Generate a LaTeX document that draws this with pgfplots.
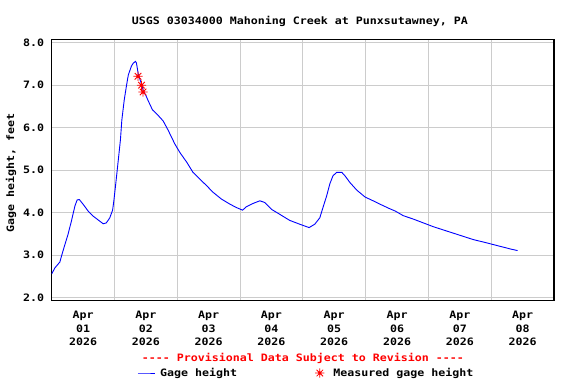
\documentclass[border=0pt]{standalone}
\usepackage{fontspec}
\newfontfamily\usgsfont{DejaVu Sans Mono}[FakeStretch=1.14]
\usepackage{pgfplots}
\pgfplotsset{compat=1.18}
\pgfdeclareplotmark{burst}{%
  \pgfpathmoveto{\pgfqpoint{-\pgfplotmarksize}{0pt}}%
  \pgfpathlineto{\pgfqpoint{\pgfplotmarksize}{0pt}}%
  \pgfpathmoveto{\pgfqpoint{0pt}{-\pgfplotmarksize}}%
  \pgfpathlineto{\pgfqpoint{0pt}{\pgfplotmarksize}}%
  \pgfpathmoveto{\pgfqpoint{-.707\pgfplotmarksize}{-.707\pgfplotmarksize}}%
  \pgfpathlineto{\pgfqpoint{.707\pgfplotmarksize}{.707\pgfplotmarksize}}%
  \pgfpathmoveto{\pgfqpoint{-.707\pgfplotmarksize}{.707\pgfplotmarksize}}%
  \pgfpathlineto{\pgfqpoint{.707\pgfplotmarksize}{-.707\pgfplotmarksize}}%
  \pgfusepathqstroke
  \pgfpathcircle{\pgfpointorigin}{0.38\pgfplotmarksize}%
  \pgfusepathqfill}
\definecolor{usgsblue}{RGB}{0,0,255}
\definecolor{usgsred}{RGB}{255,0,0}
\definecolor{gridgray}{RGB}{204,204,204}
\begin{document}
\begin{tikzpicture}[font=\usgsfont\fontsize{10.2bp}{13.9bp}\selectfont\bfseries]
\path[use as bounding box] (0,0) rectangle (576bp,-384bp);
\begin{axis}[
  at={(51.7bp,-300.7bp)}, anchor=south west,
  width=502.3bp, height=261.4bp, scale only axis,
  xmin=0, xmax=8, ymin=1.93, ymax=8.08,
  axis line style={black, line width=1.2bp},
  xtick={0.5,1.5,2.5,3.5,4.5,5.5,6.5,7.5},
  xticklabels={{Apr\\01\\2026},{Apr\\02\\2026},{Apr\\03\\2026},{Apr\\04\\2026},{Apr\\05\\2026},{Apr\\06\\2026},{Apr\\07\\2026},{Apr\\08\\2026}},
  xticklabel style={align=center, yshift=-6.5bp},
  minor xtick={1,2,3,4,5,6,7},
  xminorgrids=true, xmajorgrids=false,
  ytick={2,3,4,5,6,7,8},
  yticklabels={2.0,3.0,4.0,5.0,6.0,7.0,8.0},
  yticklabel style={xshift=-4bp},
  ymajorgrids=true,
  major tick length=0pt, minor tick length=0pt,
  tick style={draw=none},
  grid style={draw=gridgray, line width=0.9bp},
  minor grid style={draw=gridgray, line width=0.9bp},
  ylabel={Gage height, feet},
  ylabel style={at={(axis description cs:-0.081,0.487)}, anchor=center},
  legend columns=2,
  legend style={at={(axis description cs:0.507,-0.2766)}, anchor=center,
    draw=none, fill=none,
    /tikz/every even column/.append style={column sep=76bp}},
]
\addplot[usgsblue, line width=0.9bp] coordinates {
(0.00,2.56)(0.05,2.70)(0.13,2.84)(0.16,3.00)(0.21,3.25)(0.26,3.49)(0.315,3.81)(0.37,4.16)(0.405,4.30)(0.44,4.31)(0.50,4.20)(0.58,4.04)(0.66,3.92)(0.74,3.83)(0.82,3.74)(0.87,3.76)(0.925,3.88)(0.97,4.06)(0.99,4.28)(1.02,4.68)(1.06,5.23)(1.095,5.72)(1.117,6.18)(1.155,6.65)(1.19,6.98)(1.22,7.24)(1.27,7.45)(1.30,7.52)(1.335,7.56)(1.35,7.52)(1.38,7.25)(1.43,7.03)(1.46,6.86)(1.50,6.76)(1.535,6.64)(1.605,6.42)(1.67,6.33)(1.775,6.16)(1.855,5.94)(1.96,5.62)(2.04,5.42)(2.15,5.19)(2.25,4.95)(2.36,4.79)(2.465,4.64)(2.57,4.48)(2.705,4.32)(2.84,4.20)(2.945,4.12)(3.04,4.06)(3.10,4.14)(3.21,4.22)(3.315,4.28)(3.395,4.24)(3.50,4.08)(3.635,3.96)(3.79,3.82)(3.95,3.73)(4.10,3.65)(4.19,3.73)(4.27,3.88)(4.32,4.12)(4.38,4.40)(4.43,4.68)(4.48,4.87)(4.54,4.95)(4.62,4.95)(4.67,4.87)(4.75,4.71)(4.86,4.53)(4.99,4.37)(5.12,4.28)(5.23,4.20)(5.375,4.10)(5.47,4.04)(5.60,3.93)(5.76,3.85)(5.92,3.76)(6.08,3.67)(6.29,3.57)(6.50,3.47)(6.71,3.37)(6.93,3.29)(7.14,3.21)(7.325,3.14)(7.42,3.11)
};
\addlegendentry{\hspace*{3bp}Gage height}
\addplot[only marks, mark=burst, mark size=4.6bp, usgsred, line width=0.8bp] coordinates {
(1.375,7.21)(1.43,7.00)(1.455,6.84)
};
\addlegendentry{\hspace*{7bp}Measured gage height}
\end{axis}
\node[anchor=base] at (300bp,-24bp) {USGS 03034000 Mahoning Creek at Punxsutawney, PA};
\node[anchor=center, text=usgsred] at (303bp,-358bp) {---- Provisional Data Subject to Revision ----};
\end{tikzpicture}
\end{document}
